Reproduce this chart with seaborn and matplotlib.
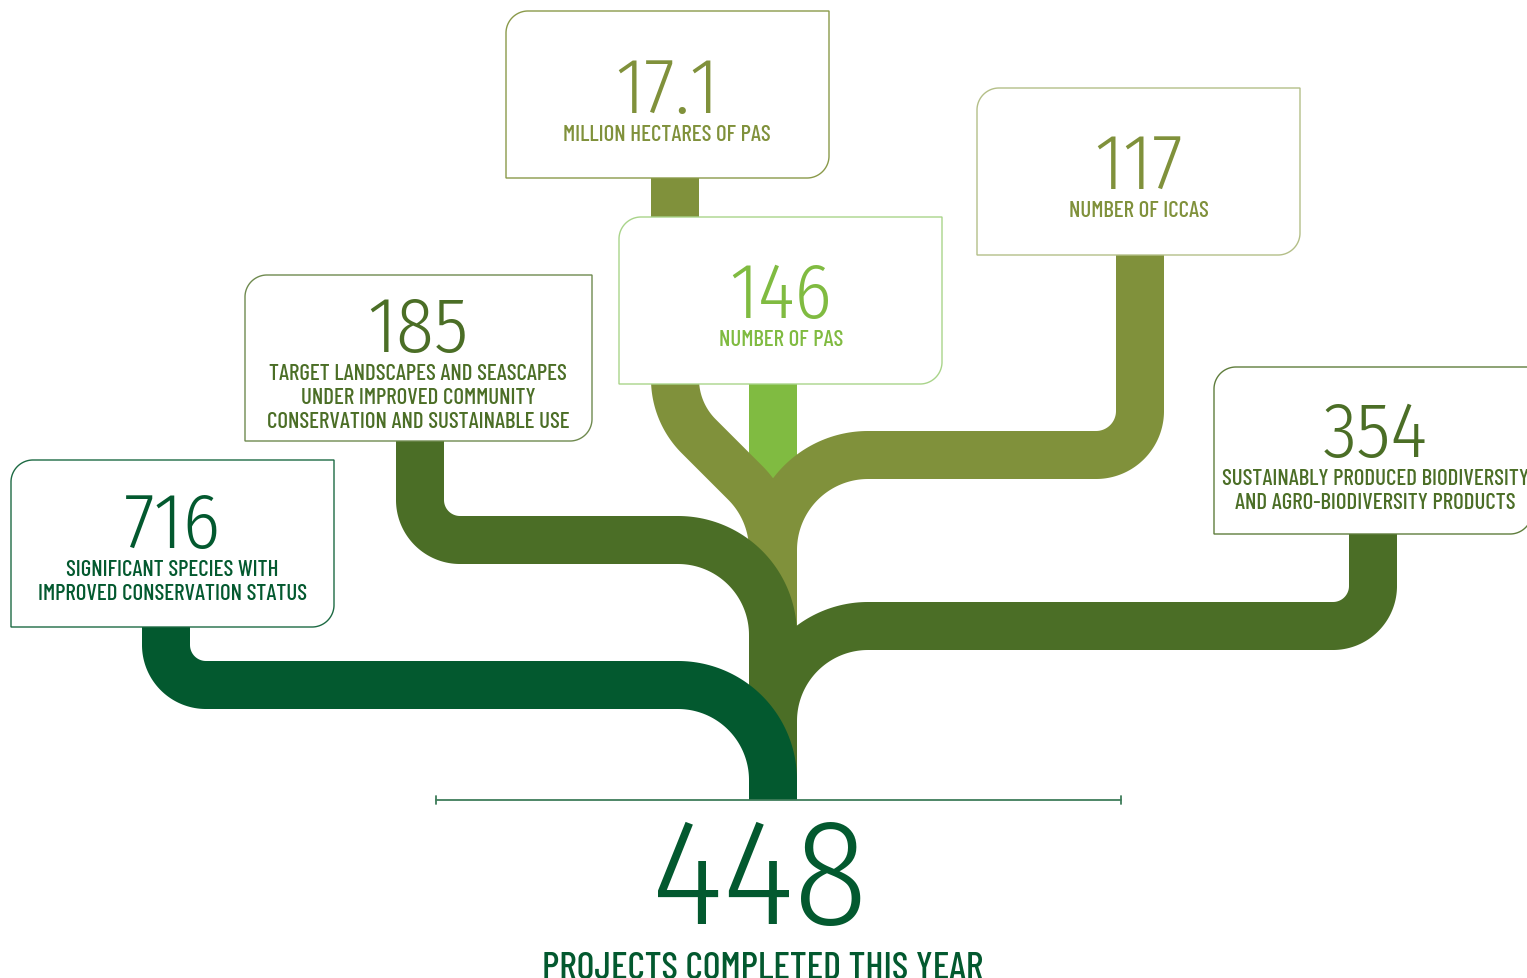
import numpy as np
import matplotlib
matplotlib.use("Agg")
import matplotlib.pyplot as plt
from matplotlib.patches import Polygon
import seaborn as sns

# Values shown in the boxes (left to right)
valores = ["716", "185", "17.1", "146", "117", "354"]
rotulos = [
    ["SIGNIFICANT SPECIES WITH", "IMPROVED CONSERVATION STATUS"],
    ["TARGET LANDSCAPES AND SEASCAPES", "UNDER IMPROVED COMMUNITY", "CONSERVATION AND SUSTAINABLE USE"],
    ["MILLION HECTARES OF PAS"],
    ["NUMBER OF PAS"],
    ["NUMBER OF ICCAS"],
    ["SUSTAINABLY PRODUCED BIODIVERSITY", "AND AGRO-BIODIVERSITY PRODUCTS"],
]
total = "448"
total_rotulo = "PROJECTS COMPLETED THIS YEAR"

# Colours
verde_escuro = "#03592f"
verde_medio = "#4b6e26"
oliva = "#80913b"
verde_claro = "#80bb41"
cores_texto = [verde_escuro, verde_medio, oliva, verde_claro, oliva, verde_medio]
cores_borda = ["#1d6a43", "#6f8a4f", "#8a9a4a", "#a9d48a", "#b4bf88", "#5f7d3c"]

# Layout in pixel units (y grows downward)
W, H = 1527, 979
caixas = [(11, 461, 334, 628), (245, 276, 592, 442), (506, 12, 829, 179),
          (619, 218, 942, 385), (977, 89, 1300, 256), (1214, 368, 1532, 535)]
centro_x = [172, 418, 667, 781, 1139, 1375]
base_num = [548, 352, 113, 318, 189, 457]
TRONCO = 773
LARG = 48

FONTE_NUM = ["Fira Sans Condensed", "Fira Sans Extra Condensed", "DejaVu Sans"]
FONTE_ROT = ["Barlow Condensed", "Fira Sans Extra Condensed", "DejaVu Sans"]


def arco(cx, cy, r, a0, a1, n=60):
    a = np.radians(np.linspace(a0, a1, n))
    return list(zip(cx + r * np.cos(a), cy + r * np.sin(a)))


def galho_lateral(x0, y0, yh, lado, r1=40, r2=95, y_fim=801):
    # vertical stem under a box, corner, horizontal run, then a bend into the trunk
    pts = [(x0, y0), (x0, yh - r1)]
    if lado == "esq":
        pts += arco(x0 + r1, yh - r1, r1, 180, 90)
        pts += [(TRONCO - r2, yh)]
        pts += arco(TRONCO - r2, yh + r2, r2, -90, 0)
    else:
        pts += arco(x0 - r1, yh - r1, r1, 0, 90)
        pts += [(TRONCO + r2, yh)]
        pts += arco(TRONCO + r2, yh + r2, r2, -90, -180)
    pts += [(TRONCO, y_fim)]
    return pts


def galho_s(x0, y0, y1, r1=81, r2=95, y_fim=700):
    # S-shaped stem from the top box into the trunk
    c45 = np.cos(np.radians(45))
    pts = [(x0, y0), (x0, y1)]
    pts += arco(x0 + r1, y1, r1, 180, 135)
    xa, ya = x0 + r1 - r1 * c45, y1 + r1 * c45
    xb = TRONCO - r2 + r2 * c45
    yb = ya + (xb - xa)
    pts += arco(TRONCO - r2, yb + r2 * c45, r2, -45, 0)
    pts += [(TRONCO, y_fim)]
    return pts


def caixa(x0, y0, x1, y1, r=22):
    pts = [(x0 + r, y0), (x1, y0), (x1, y1 - r)]
    pts += arco(x1 - r, y1 - r, r, 0, 90)
    pts += [(x0, y1), (x0, y0 + r)]
    pts += arco(x0 + r, y0 + r, r, 180, 270)
    return np.array(pts)


sns.set_style("white")
plt.rcParams["font.family"] = FONTE_ROT

fig = plt.figure(figsize=(W / 100, H / 100), dpi=100)
ax = fig.add_axes([0, 0, 1, 1])

lw = LARG * 72 / 100

galhos = [
    ([(TRONCO, 385), (TRONCO, 520)], verde_claro, 1),
    (galho_s(675, 179, 380), oliva, 2),
    (galho_lateral(1140, 256, 456, "dir", r1=44, y_fim=700), oliva, 2),
    (galho_lateral(420, 442, 541, "esq"), verde_medio, 3),
    (galho_lateral(1373, 535, 627, "dir"), verde_medio, 3),
    (galho_lateral(166, 628, 686, "esq"), verde_escuro, 4),
]
for pts, cor, z in galhos:
    xs = [p[0] for p in pts]
    ys = [p[1] for p in pts]
    sns.lineplot(x=xs, y=ys, sort=False, estimator=None, color=cor, linewidth=lw,
                 solid_capstyle="butt", solid_joinstyle="round", ax=ax, zorder=z)

# base line under the trunk
sns.lineplot(x=[436, 1121], y=[801, 801], sort=False, estimator=None, color="#3f7d5a", linewidth=1.3, ax=ax, zorder=6)
for xt in (436, 1121):
    sns.lineplot(x=[xt, xt], y=[797, 805], sort=False, estimator=None, color="#3f7d5a", linewidth=1.3, ax=ax, zorder=6)

for i, v in enumerate(valores):
    ax.add_patch(Polygon(caixa(*caixas[i]), closed=True, facecolor="white",
                         edgecolor=cores_borda[i], linewidth=1.0, zorder=5))
    ax.text(centro_x[i], base_num[i], v, ha="center", va="baseline", fontsize=56,
            fontweight=300, color=cores_texto[i], family=FONTE_NUM, zorder=7)
    for j, linha in enumerate(rotulos[i]):
        ax.text(centro_x[i], base_num[i] + 28 + 24 * j, linha, ha="center", va="baseline",
                fontsize=16.5, fontweight=500, color=cores_texto[i], family=FONTE_ROT, zorder=7)

ax.text(760, 924, total, ha="center", va="baseline", fontsize=109, fontweight=300,
        color=verde_escuro, family=FONTE_NUM, zorder=7)
ax.text(763, 979, total_rotulo, ha="center", va="baseline", fontsize=27.5, fontweight=500,
        color=verde_escuro, family=FONTE_ROT, zorder=7)

ax.set_xlim(0, W)
ax.set_ylim(H, 0)
ax.set_axis_off()
fig.savefig("out.png", dpi=100, facecolor="white")
